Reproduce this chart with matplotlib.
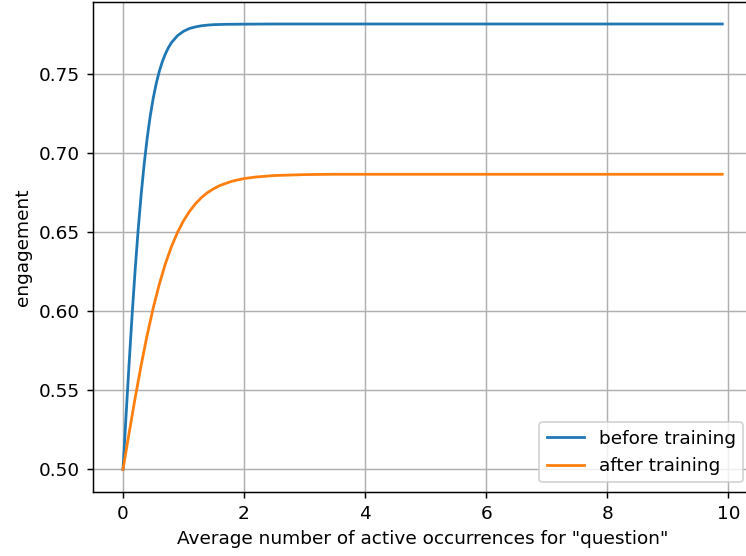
import matplotlib
matplotlib.use('Agg')
import matplotlib.pyplot as plt
import numpy as np

# a. values
x_before = [0.0, 0.05, 0.1, 0.15, 0.2, 0.25, 0.3, 0.35, 0.4, 0.45, 0.5, 0.55,
            0.6, 0.65, 0.7, 0.75, 0.8, 0.9, 1.0, 1.1, 1.2,
            1.3, 1.4, 1.5, 1.7, 2.0, 2.5, 4.0, 6.0, 8.0, 9.9]
y_before = [0.5, 0.5336, 0.5663, 0.5972, 0.6257, 0.6512, 0.6737, 0.6931,
            0.7096, 0.7234, 0.7348, 0.7441, 0.7517, 0.7578, 0.7627, 0.7666,
            0.7698, 0.7742, 0.7770, 0.7788, 0.7798, 0.7805, 0.7809, 0.7812,
            0.7814, 0.7815, 0.7816, 0.7816, 0.7816, 0.7816, 0.7816]

x_after = [0.0, 0.1, 0.2, 0.3, 0.4, 0.5, 0.6, 0.7, 0.8, 0.9, 1.0, 1.1, 1.2,
           1.3, 1.4, 1.5, 1.6, 1.8, 2.0, 2.2, 2.5, 3.0, 3.5, 5.0, 7.0, 9.9]
y_after = [0.5, 0.5228, 0.5450, 0.5659, 0.5850, 0.6022, 0.6171, 0.6300,
           0.6408, 0.6498, 0.6572, 0.6632, 0.6681, 0.6720, 0.6751, 0.6775,
           0.6795, 0.6822, 0.6839, 0.6849, 0.6858, 0.6864, 0.6866, 0.6866,
           0.6866, 0.6866]

# b. figure (reference is a scaled, cropped default figure)
dpi = 133
fig = plt.figure(figsize=(746 / dpi, 556 / dpi), dpi=dpi)
ax = fig.add_axes([0.1247, 0.1156, 0.8836, 0.8813])

# c. curves
ax.plot(x_before, y_before, label='before training')
ax.plot(x_after, y_after, label='after training')

# d. final touches and save
ax.set_xlabel('Average number of active occurrences for "question"')
ax.set_ylabel('engagement')
ax.grid(True)
ax.legend(loc='lower right')
fig.savefig('out.png', dpi=dpi)
